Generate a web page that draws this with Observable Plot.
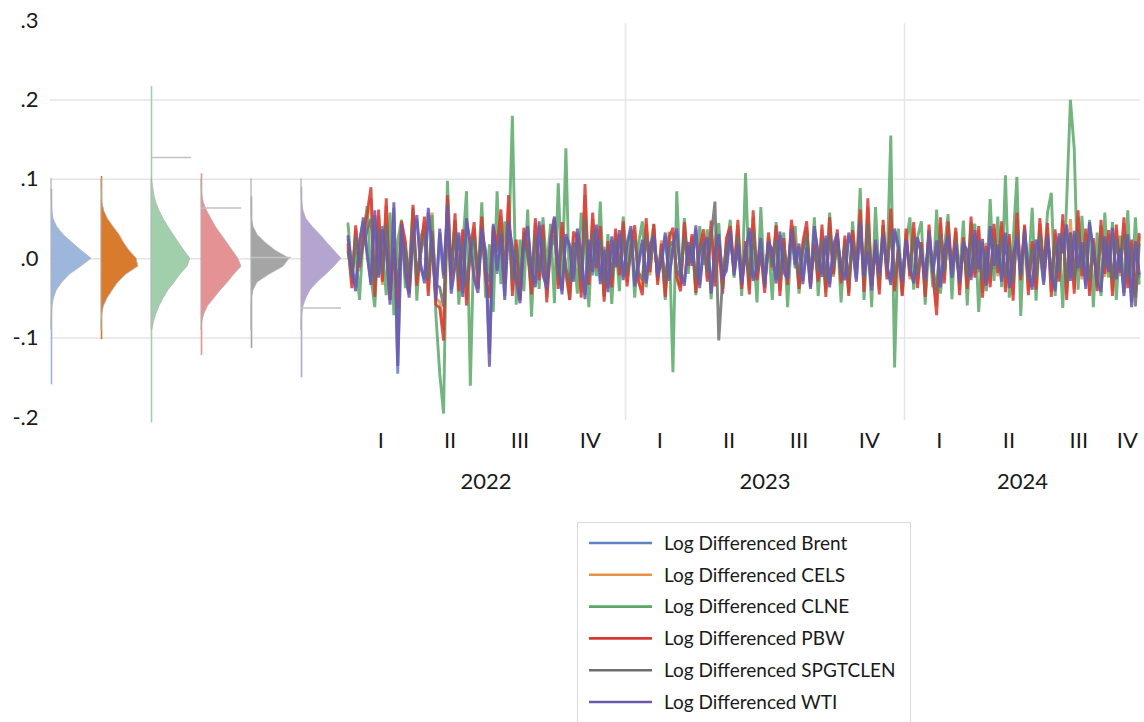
<!DOCTYPE html>
<html><head><meta charset="utf-8">
<script src="https://cdn.jsdelivr.net/npm/d3@7"></script>
<script src="https://cdn.jsdelivr.net/npm/@observablehq/plot@0.6"></script>
<style>
body{margin:0;background:#fff;font-family:Lato,"Noto Sans",sans-serif;color:#1a1a1a;}
#wrap{position:relative;width:1144px;height:722px;overflow:hidden;background:#fff;}
#left,#right,#legend{position:absolute;top:0;}
#left{left:0;} #right{left:346px;}
#legend{left:577px;top:522px;}
svg{overflow:visible;max-width:none!important;}
</style></head><body>
<div id="wrap"><div id="left"></div><div id="right"></div><div id="legend"></div></div>
<script>
// ---------- names & labels ----------
const seriesNames = ["Brent","CELS","CLNE","PBW","SPGTCLEN","WTI"];
const legendLabels = seriesNames.map(s => "Log Differenced " + s);
const lineColors = ["#5d82c6","#e8914a","#5aa768","#d63a34","#6e6e6e","#6c58ad"];
const densFill = ["#9db6dc","#d97b2d","#a2cfab","#e59294","#a5a5a5","#b4a5d0"];
const yTicks = [-0.2,-0.1,0,0.1,0.2,0.3];
const yTickLabels = ["-.2","-.1",".0",".1",".2",".3"];
const gridValues = [-0.1,0,0.1,0.2];
const years = [2022,2023,2024];
const quarterLabels = ["I","II","III","IV"];

// ---------- time series (every 5th day from 2022-01-03) ----------
const startDate = Date.UTC(2022,0,3);
const stepDays = 5;
const brent = [
.024,-.008,-.036,.022,.047,.009,-.029,.055,-.02,.041,
.013,-.052,.064,-.145,.038,-.022,-.044,.031,.05,-.011,
-.026,.058,.016,-.047,.033,-.025,.061,-.039,-.004,.029,
-.043,.046,.021,-.022,-.038,.034,.01,-.12,.039,-.019,
.027,-.047,.043,.015,-.023,-.05,.026,.036,-.017,-.031,
.042,-.022,-.034,.021,.048,-.012,-.04,.027,.018,-.025,
.033,.011,-.046,.02,-.021,.038,-.028,.015,-.037,.024,
-.007,.031,-.023,.015,.036,-.03,-.01,.02,-.027,.019,
.025,-.018,-.008,.029,-.024,.013,.033,-.015,-.03,.017,
-.005,.037,-.033,.017,.023,-.039,.012,.027,-.022,-.016,
.031,-.017,.014,-.029,.01,.034,-.024,-.015,.022,-.031,
.018,.013,-.027,.03,-.013,-.022,.033,-.012,.015,-.028,
.018,-.033,.036,.009,-.019,.025,-.032,.014,.028,-.018,
-.023,.029,.016,-.025,.041,-.017,.013,-.036,.02,-.022,
.027,-.011,-.029,.034,.012,-.025,.02,-.016,-.027,.023,
.01,-.022,.03,-.014,.019,-.032,.015,.025,-.02,.013,
-.027,.017,.012,-.023,.032,-.017,.021,-.03,.037,-.013,
.014,-.025,.029,-.033,.008,.023,-.017,.032,-.012,-.035,
.02,.015,-.029,.025,-.014,-.037,.028,.011,.039,-.024,
.031,-.016,.017,-.034,.042,.013,-.026,-.038,.024,-.013,
.035,-.022,.017,-.043,.027,-.055,.018,-.023];
const cels = [
.013,-.031,.037,-.016,.024,.049,.076,-.041,.054,-.033,
.067,-.045,.019,-.055,.041,.017,-.036,.059,-.029,.013,
.047,-.041,.058,-.051,-.054,-.09,.07,-.027,.049,-.036,
.032,-.052,.017,.039,-.033,.046,-.021,-.043,.035,.011,
.054,-.026,.07,-.041,.019,-.046,.034,.012,-.039,.045,
-.022,.037,-.048,.015,.044,-.033,.04,-.021,-.045,.029,
.021,-.043,.08,-.028,.05,-.016,.035,-.047,.018,-.031,
.033,-.017,.041,-.03,.017,.036,-.025,-.04,.044,-.021,
.038,-.028,.023,-.042,.022,.033,-.02,-.036,.04,-.013,
.026,-.037,.016,.031,-.025,.041,-.03,.022,-.038,.021,
.035,-.02,.042,-.033,.018,-.039,.052,-.023,.012,-.037,
.028,-.015,.036,-.041,.021,-.028,.042,.018,-.033,.017,
.04,-.031,.022,-.025,.037,-.042,.045,-.023,.031,-.027,
.024,-.041,.031,-.017,.053,-.036,.065,-.029,.021,-.039,
.042,-.022,.054,-.036,.016,-.041,.033,-.026,.039,-.032,
.017,-.042,.037,-.023,-.06,.045,-.027,.041,-.018,.034,
-.04,.023,-.033,.046,-.02,.036,-.043,.02,-.031,.038,
-.022,.041,-.037,.027,-.046,.05,-.023,.037,-.04,.019,
-.034,.044,-.017,.039,-.042,.032,-.025,.048,-.045,.05,
-.038,.053,-.026,.033,-.041,.022,-.036,.042,-.023,.031,
-.041,.037,-.022,.045,-.032,.02,-.043,.027];
const clne = [
.044,-.018,.009,-.052,.031,.066,-.024,-.061,.038,.012,
-.046,.058,-.071,.023,.049,-.037,-.012,.064,-.053,.027,
.041,-.028,.055,-.072,-.145,-.195,.098,-.019,.047,-.058,
.013,.085,-.16,.036,-.024,.071,-.049,.018,-.067,.085,
-.032,.047,.009,.18,-.058,.024,-.041,.062,-.073,.029,
-.038,.052,-.011,.044,-.056,.095,-.034,.139,-.052,.021,
-.044,.058,.017,-.061,.036,-.022,.072,-.048,.031,-.057,
.026,-.041,.053,-.014,.038,-.049,.019,.047,-.036,.012,
.043,-.027,.009,-.052,.034,-.143,.085,-.033,.051,-.019,
.028,-.046,.041,-.008,.037,-.051,.022,.045,-.038,.014,
.049,-.024,.031,-.047,.108,-.029,.018,-.055,.065,-.036,
.021,-.052,.046,-.017,.033,-.061,.027,.041,-.044,.008,
.036,-.029,.052,-.047,.014,-.038,.058,-.021,.031,-.055,
.024,-.043,.047,-.018,.089,-.052,.029,-.061,.065,-.027,
.042,-.014,.155,-.137,.038,-.046,.019,.052,-.039,.027,
.047,-.058,.021,-.036,.062,-.044,.013,.056,-.051,.034,
-.022,.048,-.059,.031,.044,-.067,.018,-.041,.075,-.028,
.053,-.036,.105,-.049,.022,.103,-.072,.041,-.018,.064,
-.053,.037,-.021,.058,.083,-.047,.026,-.062,.071,.2,
.138,-.039,.054,-.016,.049,-.061,.033,-.047,.058,-.024,
.046,-.052,.029,-.038,.061,-.043,.052,-.031];
const pbw = [
.018,-.037,.042,-.011,.029,.057,.09,-.048,.062,-.029,
.076,-.052,.014,-.063,.047,.022,-.041,.068,-.034,.009,
.053,-.047,.031,-.058,-.062,-.103,.08,-.022,.057,-.041,
.037,-.059,.012,.046,-.038,.053,-.026,-.049,.041,.015,
.062,-.031,.08,-.047,.024,-.053,.039,.008,-.045,.051,
-.027,.043,-.055,.019,.051,-.038,.046,-.017,-.052,.034,
.026,-.049,.094,-.033,.058,-.012,.041,-.054,.022,-.036,
.038,-.021,.047,-.035,.013,.042,-.029,-.046,.051,-.017,
.044,-.033,.019,-.048,.027,.039,-.024,-.041,.046,-.009,
.031,-.043,.012,.037,-.029,.048,-.035,.018,-.044,.026,
.041,-.016,.049,-.038,.022,-.045,.061,-.027,.008,-.043,
.033,-.011,.042,-.047,.026,-.033,.049,.014,-.038,.021,
.047,-.036,.018,-.029,.043,-.048,.052,-.019,.037,-.031,
.029,-.047,.036,-.013,.062,-.042,.076,-.034,.017,-.045,
.049,-.026,.063,-.041,.012,-.047,.038,-.022,.046,-.037,
.021,-.048,.043,-.019,-.071,.052,-.031,.047,-.014,.039,
-.046,.027,-.038,.053,-.024,.041,-.049,.016,-.036,.044,
-.018,.047,-.042,.031,-.053,.058,-.027,.043,-.046,.022,
-.039,.051,-.013,.045,-.048,.037,-.029,.056,-.052,.033,
-.044,.061,-.022,.038,-.047,.026,-.041,.049,-.019,.036,
-.047,.043,-.018,.052,-.037,.024,-.049,.031];
const spgtclen = [
.009,-.023,.028,-.008,.018,.036,.05,-.028,.037,-.019,
.042,-.03,.011,-.036,.027,.012,-.024,.039,-.02,.006,
.031,-.027,.035,-.033,-.036,-.06,.045,-.015,.033,-.024,
.021,-.034,.008,.026,-.022,.031,-.015,-.029,.024,.008,
.036,-.018,.045,-.027,.013,-.031,.022,.006,-.026,.029,
-.016,.025,-.032,.011,.029,-.022,.027,-.012,-.03,.019,
.015,-.028,.05,-.019,.034,-.008,.024,-.031,.012,-.021,
.022,-.012,.027,-.02,.009,.024,-.017,-.027,.029,-.01,
.025,-.019,.011,-.028,.015,.022,-.014,-.024,.027,-.006,
.018,-.025,.008,.021,-.017,.027,.072,-.103,-.026,.015,
.024,-.01,.028,-.022,.013,-.026,.035,-.016,.005,-.025,
.019,-.007,.024,-.027,.015,-.019,.028,.008,-.022,.012,
.027,-.021,.011,-.017,.025,-.028,.03,-.011,.021,-.018,
.017,-.027,.021,-.008,.036,-.024,.045,-.02,.01,-.026,
.028,-.015,.036,-.024,.007,-.027,.022,-.013,.027,-.021,
.012,-.028,.025,-.011,-.04,.03,-.018,.027,-.008,.022,
-.027,.016,-.022,.031,-.014,.024,-.028,.009,-.021,.025,
-.011,.027,-.024,.018,-.031,.033,-.016,.025,-.027,.013,
-.023,.03,-.008,.026,-.028,.021,-.017,.032,-.03,.033,
-.026,.035,-.013,.022,-.027,.015,-.024,.028,-.011,.021,
-.027,.025,-.012,.03,-.022,.014,-.06,.018];
const wti = [
.028,-.012,-.041,.019,.052,.004,-.033,.061,-.024,.037,
.009,-.058,.071,-.135,.043,-.018,-.049,.026,.055,-.007,
-.031,.064,.012,-.052,.038,-.021,.067,-.044,-.009,.033,
-.048,.051,.017,-.026,-.043,.039,.006,-.136,.044,-.015,
.031,-.052,.048,.011,-.027,-.056,.022,.041,-.013,-.036,
.047,-.018,-.039,.026,.053,-.008,-.045,.031,.014,-.029,
.038,.007,-.051,.024,-.017,.043,-.032,.011,-.042,.028,
-.011,.036,-.027,.019,.041,-.035,-.006,.024,-.031,.015,
.029,-.022,-.004,.033,-.028,.017,.038,-.019,-.034,.021,
-.009,.042,-.037,.013,.027,-.044,.008,.031,-.026,-.012,
.035,-.021,.018,-.033,.006,.039,-.028,-.011,.026,-.035,
.022,.009,-.031,.034,-.017,-.026,.037,-.008,.019,-.032,
.014,-.038,.041,.005,-.023,.029,-.036,.018,.032,-.014,
-.027,.033,.012,-.029,.046,-.021,.009,-.04,.024,-.018,
.031,-.007,-.033,.038,.016,-.029,.024,-.012,-.031,.027,
.006,-.026,.034,-.018,.023,-.036,.011,.029,-.024,.017,
-.031,.021,.008,-.027,.036,-.013,.025,-.034,.041,-.009,
.018,-.029,.033,-.037,.004,.027,-.021,.036,-.016,-.039,
.024,.011,-.033,.029,-.018,-.041,.032,.007,.043,-.028,
.035,-.012,.021,-.038,.046,.009,-.03,-.042,.028,-.017,
.039,-.026,.013,-.047,.031,-.061,.022,-.019];
const seriesValues = [brent, cels, clne, pbw, spgtclen, wti];

// ---------- distribution panel ----------
const densGrid = [.10,.09,.08,.07,.06,.05,.04,.03,.02,.01,0,-.01,-.02,-.03,-.04,-.05,-.06,-.07,-.08,-.09];
const densBrent = [0,0,0,.01,.02,.05,.14,.30,.52,.75,1.0,.74,.46,.27,.13,.06,.025,.01,0,0];
const densCels  = [0,0,.01,.025,.07,.16,.30,.45,.56,.70,.88,.92,.62,.42,.28,.15,.06,.02,0,0];
const densClne  = [.01,.04,.07,.12,.20,.30,.42,.55,.68,.82,.97,.90,.72,.58,.42,.30,.20,.12,.06,.02];
const densPbw   = [0,0,.02,.06,.14,.25,.36,.50,.64,.78,.92,1.0,.82,.66,.48,.32,.16,.07,.02,0];
const densSpg   = [0,0,0,0,0,.01,.05,.15,.35,.60,.95,.80,.45,.15,.05,.01,0,0,0,0];
const densWti   = [0,0,0,.02,.05,.12,.28,.47,.64,.82,1.0,.82,.62,.40,.22,.12,.05,.02,0,0];
const densValues = [densBrent, densCels, densClne, densPbw, densSpg, densWti];
const distMin = [-0.159,-0.102,-0.207,-0.122,-0.113,-0.15];
const distMax = [0.087,0.1035,0.217,0.107,0.078,0.09];
const markerSeries = ["CLNE","PBW","SPGTCLEN","WTI"];
const markerValues = [0.1275,0.064,0.0015,-0.062];

// ---------- layout ----------
const H = 500, MT = 20, MB = 83;
const yScale = {domain:[-0.2,0.3], ticks: yTicks};
const font = {fontFamily:"Lato, 'Noto Sans', sans-serif", fontSize:"22px", color:"#1a1a1a", background:"transparent"};
const DW = 0.8; // density max width in slot units

// Left plot (distributions)
const densRows = [];
seriesNames.forEach((s,i)=> densGrid.forEach((v,j)=> densRows.push({series:s, idx:i, v, d:densValues[i][j]})));
const distRows = seriesNames.map((s,i)=>({series:s, idx:i, lo:distMin[i], hi:distMax[i]}));
const markRows = markerSeries.map((s,j)=>({idx: seriesNames.indexOf(s), v: markerValues[j]}));

const leftMarks = [
  Plot.ruleY(gridValues, {stroke:"#e4e4e4", strokeWidth:1.5}),
  Plot.axisY(yTicks, {tickSize:0, tickPadding:12, fontSize:22, tickFormat: d => yTickLabels[yTicks.indexOf(d)]}),
];
seriesNames.forEach((s,i)=>{
  const rows = densRows.filter(r=>r.series===s);
  leftMarks.push(Plot.ruleX(distRows.filter(r=>r.series===s), {x:"idx", y1:"lo", y2:"hi", stroke:densFill[i], strokeWidth:1.6}));
  leftMarks.push(Plot.areaX(rows, {y:"v", x1:"idx", x2: r => r.idx + DW*r.d, fill:densFill[i], stroke:"#b3b3b3", strokeWidth:0.8, curve:"linear"}));
});
leftMarks.push(Plot.ruleY(markRows, {y:"v", x1:"idx", x2: r => r.idx + DW, stroke:"#c2c2c2", strokeWidth:1.5}));

const left = Plot.plot({
  width:346, height:H, marginLeft:50, marginRight:0, marginTop:MT, marginBottom:MB,
  x:{domain:[-0.02,5.9], axis:null},
  y:{...yScale, axis:null},
  style: font,
  marks: leftMarks
});
document.getElementById("left").appendChild(left);

// Right plot (time series)
const nPts = brent.length;
const dates = d3.range(nPts).map(k => new Date(startDate + k*stepDays*864e5));
const domainEnd = new Date(Date.UTC(2024,10,4,16));
const domainStart = new Date(Date.UTC(2022,0,1));
const quarterRows = [];
years.forEach(y => quarterLabels.forEach((q,qi)=>{
  const a = Date.UTC(y, qi*3, 1), b = Math.min(Date.UTC(y, qi*3+3, 1), +domainEnd);
  quarterRows.push({mid:new Date((a+b)/2), label:q});
}));
const yearRows = years.map(y => {
  const a = Date.UTC(y,0,1), b = Math.min(Date.UTC(y+1,0,1), +domainEnd);
  return {mid:new Date((a+b)/2), label:String(y)};
});
const yearBounds = years.slice(1).map(y => new Date(Date.UTC(y,0,1)));

const rightMarks = [
  Plot.ruleY(gridValues, {stroke:"#e4e4e4", strokeWidth:1.5}),
  Plot.ruleX(yearBounds, {y1:-0.204, y2:0.296, stroke:"#e6e6e6", strokeWidth:1.5}),
];
seriesNames.forEach((s,i)=>{
  const rows = seriesValues[i].map((v,k)=>({date:dates[k], value:v}));
  rightMarks.push(Plot.lineY(rows, {x:"date", y:"value", stroke:lineColors[i], strokeWidth:2.9, strokeOpacity:0.85, strokeLinejoin:"miter"}));
});
rightMarks.push(Plot.text(quarterRows, {x:"mid", y: () => -0.2, dy:23, text:"label", fontSize:22, fill:"#1a1a1a"}));
rightMarks.push(Plot.text(yearRows, {x:"mid", y: () => -0.2, dy:64, text:"label", fontSize:22, fill:"#1a1a1a"}));

const right = Plot.plot({
  width:798, height:H, marginLeft:0, marginRight:4, marginTop:MT, marginBottom:MB,
  x:{type:"utc", domain:[domainStart, domainEnd], axis:null},
  y:{...yScale, axis:null},
  style: font,
  marks: rightMarks
});
document.getElementById("right").appendChild(right);

// Legend
const lg = d3.select("#legend").append("svg").attr("width",335).attr("height",210);
lg.append("rect").attr("x",0.5).attr("y",0.5).attr("width",333).attr("height",230)
  .attr("fill","#fff").attr("stroke","#d9d9d9");
legendLabels.forEach((t,i)=>{
  const cy = 21 + i*31.8;
  lg.append("line").attr("x1",12).attr("x2",75).attr("y1",cy).attr("y2",cy)
    .attr("stroke",lineColors[i]).attr("stroke-width",2.6);
  lg.append("text").attr("x",87).attr("y",cy).attr("dy","0.36em")
    .attr("font-family","Lato, 'Noto Sans', sans-serif").attr("font-size",19).attr("fill","#1a1a1a").text(t);
});
</script>
</body></html>
